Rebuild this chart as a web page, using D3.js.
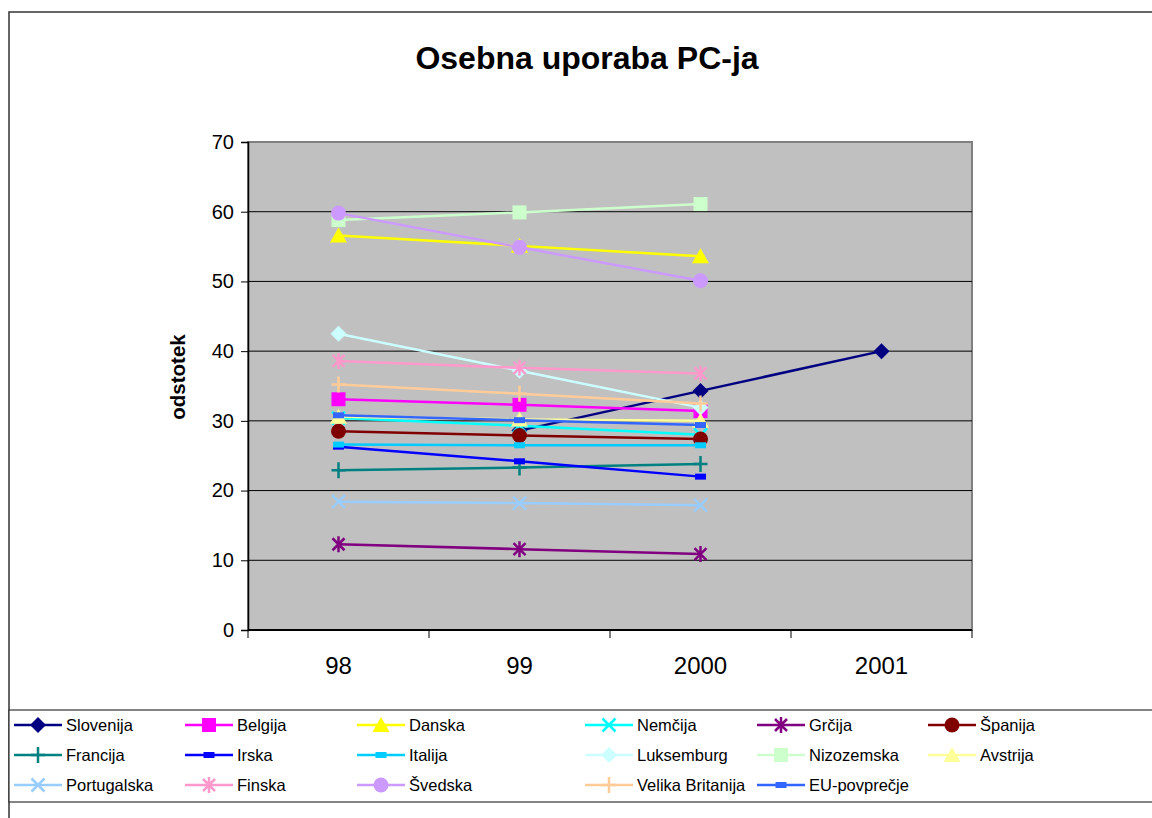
<!DOCTYPE html>
<html>
<head>
<meta charset="utf-8">
<script src="https://cdn.jsdelivr.net/npm/d3@7"></script>
<style>
body{margin:0;background:#fff;}
svg{font-family:"Liberation Sans",Arial,sans-serif;}
</style>
</head>
<body>
<svg width="1152" height="818"></svg>
<script>
const svg=d3.select('svg');

// data
const years=['98','99','2000','2001'];
const countries=['Slovenija','Belgija','Danska','Nemčija','Grčija','Španija',
 'Francija','Irska','Italija','Luksemburg','Nizozemska','Avstrija',
 'Portugalska','Finska','Švedska','Velika Britanija','EU-povprečje'];
const slovenija=[null,28.6,34.3,40.0];
const belgija=[33.1,32.3,31.4,null];
const danska=[56.6,55.1,53.6,null];
const nemcija=[30.4,29.3,28.0,null];
const grcija=[12.3,11.6,10.9,null];
const spanija=[28.5,27.9,27.4,null];
const francija=[22.9,23.3,23.8,null];
const irska=[26.3,24.2,22.0,null];
const italija=[26.6,26.5,26.5,null];
const luksemburg=[42.5,37.2,31.9,null];
const nizozemska=[58.8,59.9,61.1,null];
const avstrija=[30.6,30.2,30.0,null];
const portugalska=[18.4,18.2,17.9,null];
const finska=[38.6,37.6,36.8,null];
const svedska=[59.8,54.9,50.1,null];
const britanija=[35.2,33.9,32.5,null];
const eu=[30.8,30.1,29.4,null];
const yTicks=[0,10,20,30,40,50,60,70];

const allValues=[slovenija,belgija,danska,nemcija,grcija,spanija,francija,irska,italija,
 luksemburg,nizozemska,avstrija,portugalska,finska,svedska,britanija,eu];
const colors=['#000080','#FF00FF','#FFFF00','#00FFFF','#800080','#800000',
 '#008080','#0000FF','#00CCFF','#CCFFFF','#CCFFCC','#FFFF99',
 '#99CCFF','#FF99CC','#CC99FF','#FFCC99','#3366FF'];
const shapes=['diamond','square','triangle','times','asterisk','circle',
 'plus','dash','dash','diamond','square','triangle',
 'times','asterisk','circle','plus','dash'];

const series=countries.map((c,i)=>({name:c,values:allValues[i],color:colors[i],shape:shapes[i]}));

/****** frame ******/
svg.append('rect').attr('x',9).attr('y',12).attr('width',1160).attr('height',820)
 .attr('fill','#fff').attr('stroke','#333').attr('stroke-width',1.5);

svg.append('text').attr('x',587).attr('y',69).attr('text-anchor','middle')
 .attr('font-size',32).attr('font-weight','bold').text('Osebna uporaba PC-ja');

/****** scales ******/
const plot={left:248,top:142,right:972,bottom:630};
const x=d3.scaleBand().domain(years).range([plot.left,plot.right]);
const y=d3.scaleLinear().domain([0,70]).range([plot.bottom,plot.top]);
const cx=d=>x(d)+x.bandwidth()/2;

svg.append('rect').attr('x',plot.left).attr('y',plot.top)
 .attr('width',plot.right-plot.left).attr('height',plot.bottom-plot.top)
 .attr('fill','#C0C0C0').attr('stroke','#808080').attr('stroke-width',2);

svg.append('g').selectAll('line').data(yTicks.filter(d=>d>0&&d<70)).join('line')
 .attr('x1',plot.left).attr('x2',plot.right).attr('y1',d=>y(d)).attr('y2',d=>y(d))
 .attr('stroke','#000').attr('stroke-width',1);

// y axis
const yAxis=svg.append('g').attr('transform',`translate(${plot.left},0)`)
 .call(d3.axisLeft(y).tickValues(yTicks).tickSize(7).tickPadding(7));
yAxis.attr('font-family',null).attr('font-size',null);
yAxis.select('.domain').attr('stroke','#000').attr('stroke-width',1.5);
yAxis.selectAll('text').attr('font-size',20).attr('fill','#000');

// x axis: ticks between categories
const xAxis=svg.append('g').attr('transform',`translate(0,${plot.bottom})`);
xAxis.append('line').attr('x1',plot.left).attr('x2',plot.right).attr('stroke','#000').attr('stroke-width',2);
const bounds=years.map(d=>x(d)).concat([plot.right]);
xAxis.selectAll('.tk').data(bounds).join('line').attr('class','tk')
 .attr('x1',d=>d).attr('x2',d=>d).attr('y1',0).attr('y2',8).attr('stroke','#000');
xAxis.selectAll('text').data(years).join('text')
 .attr('x',d=>cx(d)).attr('y',44).attr('text-anchor','middle')
 .attr('font-size',24).text(d=>d);

svg.append('text').attr('transform','translate(185,377) rotate(-90)')
 .attr('text-anchor','middle').attr('font-size',20.5).attr('font-weight','bold').text('odstotek');

/****** markers ******/
const shapePath={
 diamond:'M0,-8L8,0L0,8L-8,0Z',
 square:'M-7,-7H7V7H-7Z',
 triangle:'M0,-8L8.5,7H-8.5Z',
 times:'M-6.5,-6.5L6.5,6.5M-6.5,6.5L6.5,-6.5',
 asterisk:'M-6,-6L6,6M-6,6L6,-6M0,-8V8',
 plus:'M0,-8V8M-7,0H7',
 dash:'M-5.5,-3H5.5V3H-5.5Z'
};
function marker(g,s){
 if(s.shape==='circle'){
  g.append('circle').attr('r',7.5).attr('fill',s.color);
  return;
 }
 const stroke=['times','asterisk','plus'].includes(s.shape);
 g.append('path').attr('d',shapePath[s.shape])
  .attr('fill',stroke?'none':s.color)
  .attr('stroke',stroke?s.color:'none').attr('stroke-width',2.5);
}

/****** lines ******/
const line=d3.line().defined(d=>d.v!==null).x(d=>cx(d.year)).y(d=>y(d.v));
series.forEach(s=>{
 const pts=s.values.map((v,i)=>({year:years[i],v}));
 const g=svg.append('g');
 g.append('path').datum(pts).attr('d',line).attr('fill','none')
  .attr('stroke',s.color).attr('stroke-width',2.5);
 pts.filter(d=>d.v!==null).forEach(d=>{
  marker(g.append('g').attr('transform',`translate(${cx(d.year)},${y(d.v)})`),s);
 });
});

/****** legend ******/
svg.append('rect').attr('x',9).attr('y',710).attr('width',1160).attr('height',92)
 .attr('fill','#fff').attr('stroke','#333').attr('stroke-width',1.2);
const colX=[14,185,357,585,757,928];
const rowY=[725,755,785];
series.forEach((s,i)=>{
 const lx=colX[i%6], ly=rowY[Math.floor(i/6)];
 const g=svg.append('g').attr('transform',`translate(${lx},${ly})`);
 g.append('line').attr('x1',0).attr('x2',48).attr('stroke',s.color).attr('stroke-width',2.5);
 marker(g.append('g').attr('transform','translate(24,0)'),s);
 g.append('text').attr('x',52).attr('y',6).attr('font-size',16.5).text(s.name);
});
</script>
</body>
</html>
